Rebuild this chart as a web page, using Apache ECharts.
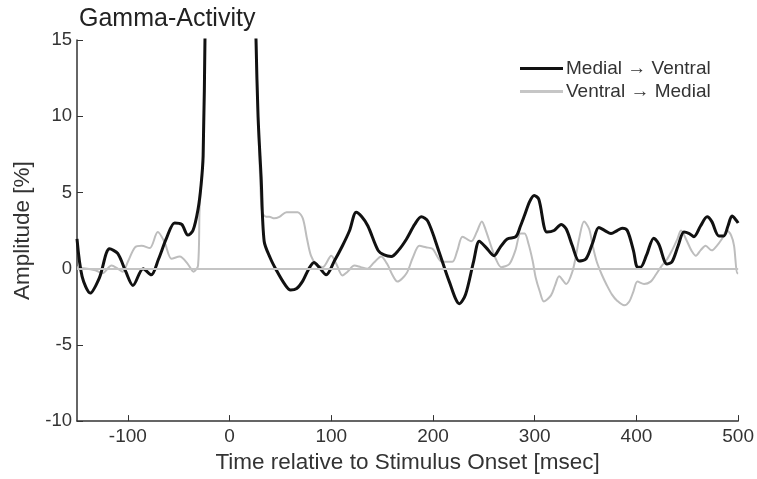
<!DOCTYPE html>
<html>
<head>
<meta charset="utf-8">
<script src="https://cdn.jsdelivr.net/npm/echarts@6/dist/echarts.min.js"></script>
<style>
  html, body { margin: 0; padding: 0; background: #fff; }
  #chart { width: 757px; height: 479px; }
</style>
</head>
<body>
<div id="chart"></div>
<script>
// Medial -> Ventral (black)
const timeMV = [-150, -145, -137, -128, -118, -110, -102, -95, -85, -77, -70, -62, -54, -47, -41, -36, -31, -28, -26, -24, -20, 0, 20, 24, 26, 28, 31, 34, 40, 46, 54, 60, 66, 72, 78, 83, 88, 95, 103, 111, 118, 124.5, 130, 136, 146, 152, 159, 166, 174, 182, 188.5, 195, 206, 216, 226, 232, 240, 245.5, 252, 260, 266, 273, 281.5, 286, 290, 295, 299.5, 304, 312, 319, 326, 331, 337, 343.6, 350.5, 357, 363, 369, 375, 381, 386, 391, 397, 401, 404, 410, 417, 422, 430, 435, 441, 446.7, 452, 456.5, 463, 469.5, 474, 481, 486, 490, 494, 499, 500]
const ampMV = [1.95, -0.5, -1.6, -0.6, 1.3, 1.0, -0.2, -1.1, 0.0, -0.4, 0.6, 2.0, 3.0, 2.9, 2.2, 2.5, 3.9, 5.5, 7.4, 16, 40, 60, 40, 22, 15, 10, 6, 1.8, 0.7, -0.1, -1.0, -1.4, -1.3, -0.8, 0.0, 0.4, 0.1, -0.4, 0.5, 1.5, 2.5, 3.7, 3.4, 2.8, 1.2, 0.9, 0.8, 1.2, 1.95, 2.9, 3.4, 3.1, 1.1, -0.85, -2.3, -1.7, 0.5, 1.8, 1.4, 0.85, 1.4, 1.95, 2.1, 2.8, 3.5, 4.4, 4.8, 4.55, 2.4, 2.5, 2.9, 2.6, 1.5, 0.5, 0.65, 1.7, 2.7, 2.5, 2.3, 2.5, 2.65, 2.5, 1.2, 0.1, 0.1, 0.9, 2.0, 1.6, 0.3, 0.45, 1.5, 2.4, 2.3, 2.1, 2.8, 3.4, 3.1, 2.15, 2.15, 2.8, 3.45, 3.1, 3.0]

// Ventral -> Medial (gray)
const timeVM = [-150, -140, -132, -125, -116, -110, -105, -100, -93, -86.5, -78.5, -70.6, -64, -57, -49, -41, -35.5, -31, -29.5, -28, -26, -24, -20, 0, 20, 24, 26, 28, 30, 32, 36, 39, 44, 49, 56, 62, 67, 72, 76, 80, 85, 91.6, 100, 105, 111, 116, 122.7, 129, 135.5, 142, 149, 155, 160, 165, 174, 180, 186.6, 193, 199.5, 209, 219, 224, 229, 237.6, 243, 248, 252, 257, 262, 267, 275, 281, 286, 290, 294, 298, 301, 305, 309, 316, 320, 324, 331, 337, 341, 343.6, 348.5, 353.5, 357, 361, 366, 371, 376, 381, 388, 393, 397, 401, 407.5, 414, 419, 425, 430, 435, 440, 443.8, 449.7, 454, 458.5, 463, 468, 474, 479, 484, 489, 493, 496, 499, 500]
const ampVM = [0.1, 0.0, -0.1, -0.3, 0.2, 0.0, -0.2, 0.45, 1.4, 1.5, 1.35, 2.4, 1.75, 0.65, 0.8, 0.3, -0.2, 0.2, 3.9, 5.5, 7.4, 16, 40, 60, 40, 22, 15, 10, 6, 3.7, 3.4, 3.4, 3.3, 3.4, 3.7, 3.7, 3.7, 3.3, 2.0, 0.85, 0.3, 0.1, 0.85, 0.3, -0.45, -0.2, 0.2, 0.1, 0.0, 0.4, 0.8, 0.3, -0.4, -0.85, -0.3, 0.7, 1.5, 1.4, 1.3, 0.45, 0.45, 1.2, 2.1, 1.8, 2.4, 3.1, 2.5, 1.5, 0.6, 0.1, 0.3, 1.2, 2.3, 2.3, 1.6, 0.5, -0.6, -1.5, -2.15, -1.75, -1.1, -0.5, -1.0, -0.2, 1.0, 1.95, 3.1, 2.6, 1.5, 0.45, -0.4, -1.1, -1.7, -2.1, -2.4, -2.15, -1.5, -0.85, -1.0, -0.85, -0.4, 0.2, 0.6, 1.2, 1.9, 2.5, 1.8, 1.2, 0.85, 1.2, 1.5, 1.2, 1.5, 1.95, 2.5, 2.2, 1.5, -0.3, -0.3]

const xTicks = [-100, 0, 100, 200, 300, 400, 500]
const yTicks = [-10, -5, 0, 5, 10, 15]

const pairs = (xs, ys) => xs.map((x, i) => [x, ys[i]])

const chart = echarts.init(document.getElementById('chart'))
const font = 'Liberation Sans, Arial, sans-serif'

chart.setOption({
  backgroundColor: '#fff',
  animation: false,
  title: {
    text: 'Gamma-Activity',
    left: 74,
    top: 2,
    textStyle: { fontFamily: font, fontSize: 25, fontWeight: 'normal', color: '#222' }
  },
  legend: {
    orient: 'vertical',
    left: 515,
    top: 54,
    icon: 'rect',
    itemWidth: 43,
    itemHeight: 3,
    itemGap: 4,
    data: ['Medial \u2192 Ventral', 'Ventral \u2192 Medial'],
    textStyle: { fontFamily: font, fontSize: 19, color: '#333', padding: [0, 0, 0, -2] }
  },
  grid: { left: 77, right: 18, top: 40, bottom: 55 },
  xAxis: {
    type: 'value',
    min: -150,
    max: 500,
    name: 'Time relative to Stimulus Onset [msec]',
    nameLocation: 'middle',
    nameGap: 27,
    nameTextStyle: { fontFamily: font, fontSize: 22.5, color: '#333' },
    splitLine: { show: false },
    axisLine: { onZero: false, lineStyle: { color: '#333', width: 1.5 } },
    axisTick: { inside: true, length: 6, customValues: xTicks, lineStyle: { color: '#333' } },
    axisLabel: { customValues: xTicks, fontFamily: font, fontSize: 19, color: '#333', margin: 6 }
  },
  yAxis: {
    type: 'value',
    min: -10,
    max: 15,
    interval: 5,
    name: 'Amplitude [%]',
    nameLocation: 'middle',
    nameGap: 40,
    nameTextStyle: { fontFamily: font, fontSize: 22.5, color: '#333' },
    splitLine: { show: false },
    axisLine: { show: true, onZero: false, lineStyle: { color: '#333', width: 1.5 } },
    axisTick: { show: true, inside: true, length: 6, customValues: yTicks, lineStyle: { color: '#333' } },
    axisLabel: { customValues: yTicks, fontFamily: font, fontSize: 18.5, color: '#333', margin: 5 }
  },
  series: [
    {
      name: 'Ventral \u2192 Medial',
      type: 'line',
      data: pairs(timeVM, ampVM),
      smooth: 0.3,
      symbol: 'none',
      clip: true,
      lineStyle: { color: '#bdbdbd', width: 2 },
      itemStyle: { color: '#c6c6c6' },
      markLine: {
        silent: true,
        symbol: 'none',
        label: { show: false },
        lineStyle: { color: '#c4c4c4', width: 2, type: 'solid' },
        data: [{ yAxis: 0 }]
      }
    },
    {
      name: 'Medial \u2192 Ventral',
      type: 'line',
      data: pairs(timeMV, ampMV),
      smooth: 0.3,
      symbol: 'none',
      clip: true,
      lineStyle: { color: '#111', width: 3 },
      itemStyle: { color: '#111' }
    }
  ]
})
</script>
</body>
</html>
